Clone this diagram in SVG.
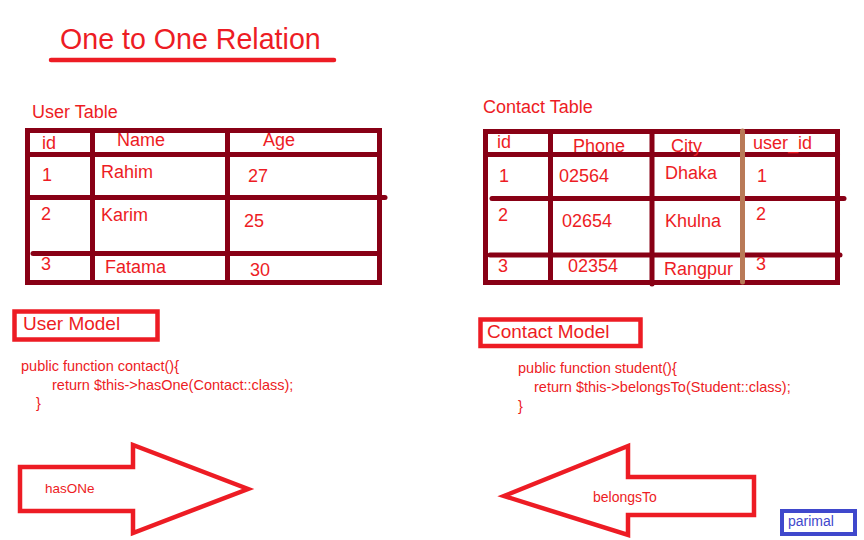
<svg xmlns="http://www.w3.org/2000/svg" width="864" height="540" viewBox="0 0 864 540">
<style>
text{font-family:"Liberation Sans",Arial,sans-serif;fill:#ed1c24}
.t18{font-size:18px}
.code{font-size:14.5px}
.tbl{fill:none;stroke:#880015;stroke-width:5}
.ln{stroke:#880015;stroke-width:5;stroke-linecap:round}
.red{fill:none;stroke:#ed1c24;stroke-width:4.5}
</style>
<rect width="864" height="540" fill="#fff"/>
<g id="title">
<text x="60" y="49" font-size="28.6">One to One Relation</text>
<line x1="51" y1="60" x2="334" y2="60" stroke="#ed1c24" stroke-width="4.5" stroke-linecap="round"/>
</g>
<g id="user-table">
<text class="t18" x="32" y="118">User Table</text>
<rect class="tbl" x="27.5" y="130.5" width="352" height="152"/>
<line class="ln" x1="92.5" y1="130.5" x2="92.5" y2="282.5"/>
<line class="ln" x1="227.5" y1="130.5" x2="227.5" y2="282.5"/>
<line class="ln" x1="27.5" y1="154.5" x2="379.5" y2="154.5"/>
<line class="ln" x1="27.5" y1="197.5" x2="385" y2="197.5"/>
<line class="ln" x1="33" y1="253.5" x2="379.5" y2="253.5"/>
<text class="t18" x="42" y="149">id</text>
<text class="t18" x="117" y="146">Name</text>
<text class="t18" x="263" y="146">Age</text>
<text class="t18" x="42" y="181">1</text>
<text class="t18" x="101" y="178">Rahim</text>
<text class="t18" x="248" y="182">27</text>
<text class="t18" x="41" y="220">2</text>
<text class="t18" x="101" y="221">Karim</text>
<text class="t18" x="244" y="227">25</text>
<text class="t18" x="41" y="270">3</text>
<text class="t18" x="105" y="273">Fatama</text>
<text class="t18" x="250" y="276">30</text>
</g>
<g id="contact-table">
<text class="t18" x="483" y="113">Contact Table</text>
<rect class="tbl" x="485.5" y="131.5" width="352" height="151"/>
<line class="ln" x1="550.5" y1="131.5" x2="550.5" y2="282.5"/>
<line class="ln" x1="652" y1="131.5" x2="652" y2="284"/>
<line class="ln" x1="485.5" y1="154.5" x2="837.5" y2="154.5"/>
<line class="ln" x1="492" y1="198.5" x2="844" y2="198.5"/>
<line class="ln" x1="490" y1="255" x2="840" y2="255"/>
<line x1="742.5" y1="131" x2="742.5" y2="282" stroke="#b97a57" stroke-width="5" stroke-linecap="round"/>
<text class="t18" x="497" y="148">id</text>
<text class="t18" x="573" y="152">Phone</text>
<text class="t18" x="671" y="152">City</text>
<text class="t18" x="753" y="149">user_id</text>
<text class="t18" x="499" y="182">1</text>
<text class="t18" x="559" y="182">02564</text>
<text class="t18" x="665" y="179">Dhaka</text>
<text class="t18" x="757" y="182">1</text>
<text class="t18" x="498" y="221">2</text>
<text class="t18" x="562" y="227">02654</text>
<text class="t18" x="665" y="227">Khulna</text>
<text class="t18" x="756" y="220">2</text>
<text class="t18" x="498" y="272">3</text>
<text class="t18" x="568" y="272">02354</text>
<text class="t18" x="664" y="275">Rangpur</text>
<text class="t18" x="756" y="270">3</text>
</g>
<g id="user-model">
<rect class="red" x="14.5" y="311.5" width="143" height="28"/>
<text x="23" y="330" font-size="19">User Model</text>
<text class="code" x="21" y="371">public function contact(){</text>
<text class="code" x="52" y="390">return $this-&gt;hasOne(Contact::class);</text>
<text class="code" x="36" y="408">}</text>
</g>
<g id="contact-model">
<rect class="red" x="480.5" y="319.5" width="160" height="26.5"/>
<text x="487" y="338" font-size="19">Contact Model</text>
<text class="code" x="518" y="373">public function student(){</text>
<text class="code" x="534" y="392">return $this-&gt;belongsTo(Student::class);</text>
<text class="code" x="518" y="411">}</text>
</g>
<g id="connectors">
<g id="hasOne-arrow">
<polygon class="red" points="20,467 133,467 133,445 248,489 133,533 133,511 20,511"/>
<text x="45" y="493" font-size="13.5">hasONe</text>
</g>
<g id="belongsTo-arrow">
<polygon class="red" points="754,477 628,477 628,446 504,496 628,535 628,515 754,515"/>
<text x="593" y="502" font-size="14">belongsTo</text>
</g>
</g>
<g id="parimal">
<rect x="782" y="511" width="73" height="23" fill="none" stroke="#3f48cc" stroke-width="4"/>
<text x="788" y="526" font-size="14" style="fill:#3f48cc">parimal</text>
</g>
</svg>
